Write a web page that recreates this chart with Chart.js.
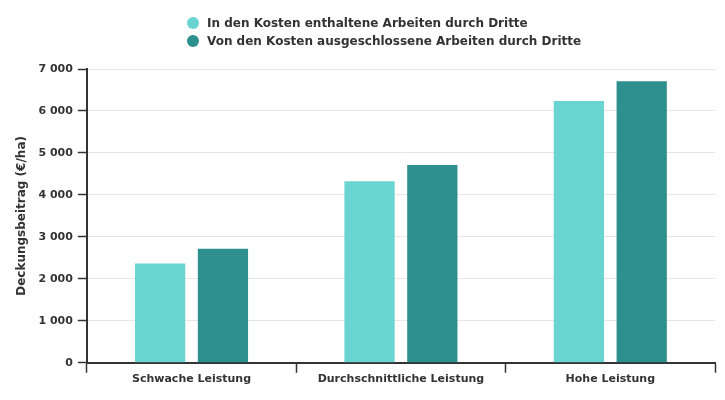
<!DOCTYPE html>
<html>
<head>
<meta charset="utf-8">
<script src="https://cdn.jsdelivr.net/npm/chart.js@4"></script>
<style>
    html, body { margin: 0; padding: 0; background: #fff; }
    .wrap { position: relative; width: 725px; height: 400px; }
    #legend {
        position: absolute;
        left: 187px;
        top: 14px;
        font-family: "DejaVu Sans", sans-serif;
        font-weight: bold;
        font-size: 12px;
        color: #333;
    }
    .legend-row { display: flex; align-items: center; height: 18px; }
    .legend-dot { width: 12px; height: 12px; border-radius: 50%; margin-right: 8px; }
</style>
</head>
<body>
<div class="wrap">
    <canvas id="chart" width="725" height="400"></canvas>
    <div id="legend"></div>
</div>
<script>
const categories = ['Schwache Leistung', 'Durchschnittliche Leistung', 'Hohe Leistung'];
const seriesNames = [
    'In den Kosten enthaltene Arbeiten durch Dritte',
    'Von den Kosten ausgeschlossene Arbeiten durch Dritte'
];
const includedValues = [2365, 4325, 6235];
const excludedValues = [2720, 4710, 6710];
const seriesColors = ['#6ad4d2', '#2d908e'];
const yTitle = 'Deckungsbeitrag (€/ha)';

const font = { family: '"DejaVu Sans", sans-serif', weight: 'bold', size: 11 };

// legend as html, both rows start at the same x
const legend = document.getElementById('legend');
seriesNames.forEach((name, i) => {
    const row = document.createElement('div');
    row.className = 'legend-row';
    row.innerHTML = `<span class="legend-dot" style="background:${seriesColors[i]}"></span><span>${name}</span>`;
    legend.appendChild(row);
});

Chart.defaults.animation = false;

new Chart(document.getElementById('chart').getContext('2d'), {
    type: 'bar',
    data: {
        labels: categories,
        datasets: [
            {
                label: seriesNames[0],
                data: includedValues,
                backgroundColor: seriesColors[0],
                categoryPercentage: 0.6,
                barPercentage: 0.8
            },
            {
                label: seriesNames[1],
                data: excludedValues,
                backgroundColor: seriesColors[1],
                categoryPercentage: 0.6,
                barPercentage: 0.8
            }
        ]
    },
    options: {
        responsive: false,
        layout: {
            padding: { top: 69, left: 15, right: 10, bottom: 14 }
        },
        plugins: {
            legend: { display: false },
            tooltip: { enabled: false }
        },
        scales: {
            x: {
                grid: {
                    offset: true,
                    drawOnChartArea: false,
                    drawTicks: true,
                    tickLength: 10,
                    tickColor: '#333',
                    tickWidth: 1.5
                },
                border: { color: '#333', width: 2 },
                ticks: { color: '#333', font: font, padding: 0 }
            },
            y: {
                min: 0,
                max: 7000,
                grid: {
                    color: '#e6e6e6',
                    tickColor: '#333',
                    tickLength: 9,
                    tickWidth: 1.5
                },
                border: { color: '#333', width: 2 },
                ticks: {
                    stepSize: 1000,
                    color: '#333',
                    font: font,
                    padding: 5,
                    callback: (value) => value.toLocaleString('fr-FR').replace(/\u202f|\u00a0/g, ' ')
                },
                title: {
                    display: true,
                    text: yTitle,
                    color: '#333',
                    font: { family: '"DejaVu Sans", sans-serif', weight: 'bold', size: 12 },
                    padding: { top: 0, bottom: 4 }
                }
            }
        }
    }
});
</script>
</body>
</html>
